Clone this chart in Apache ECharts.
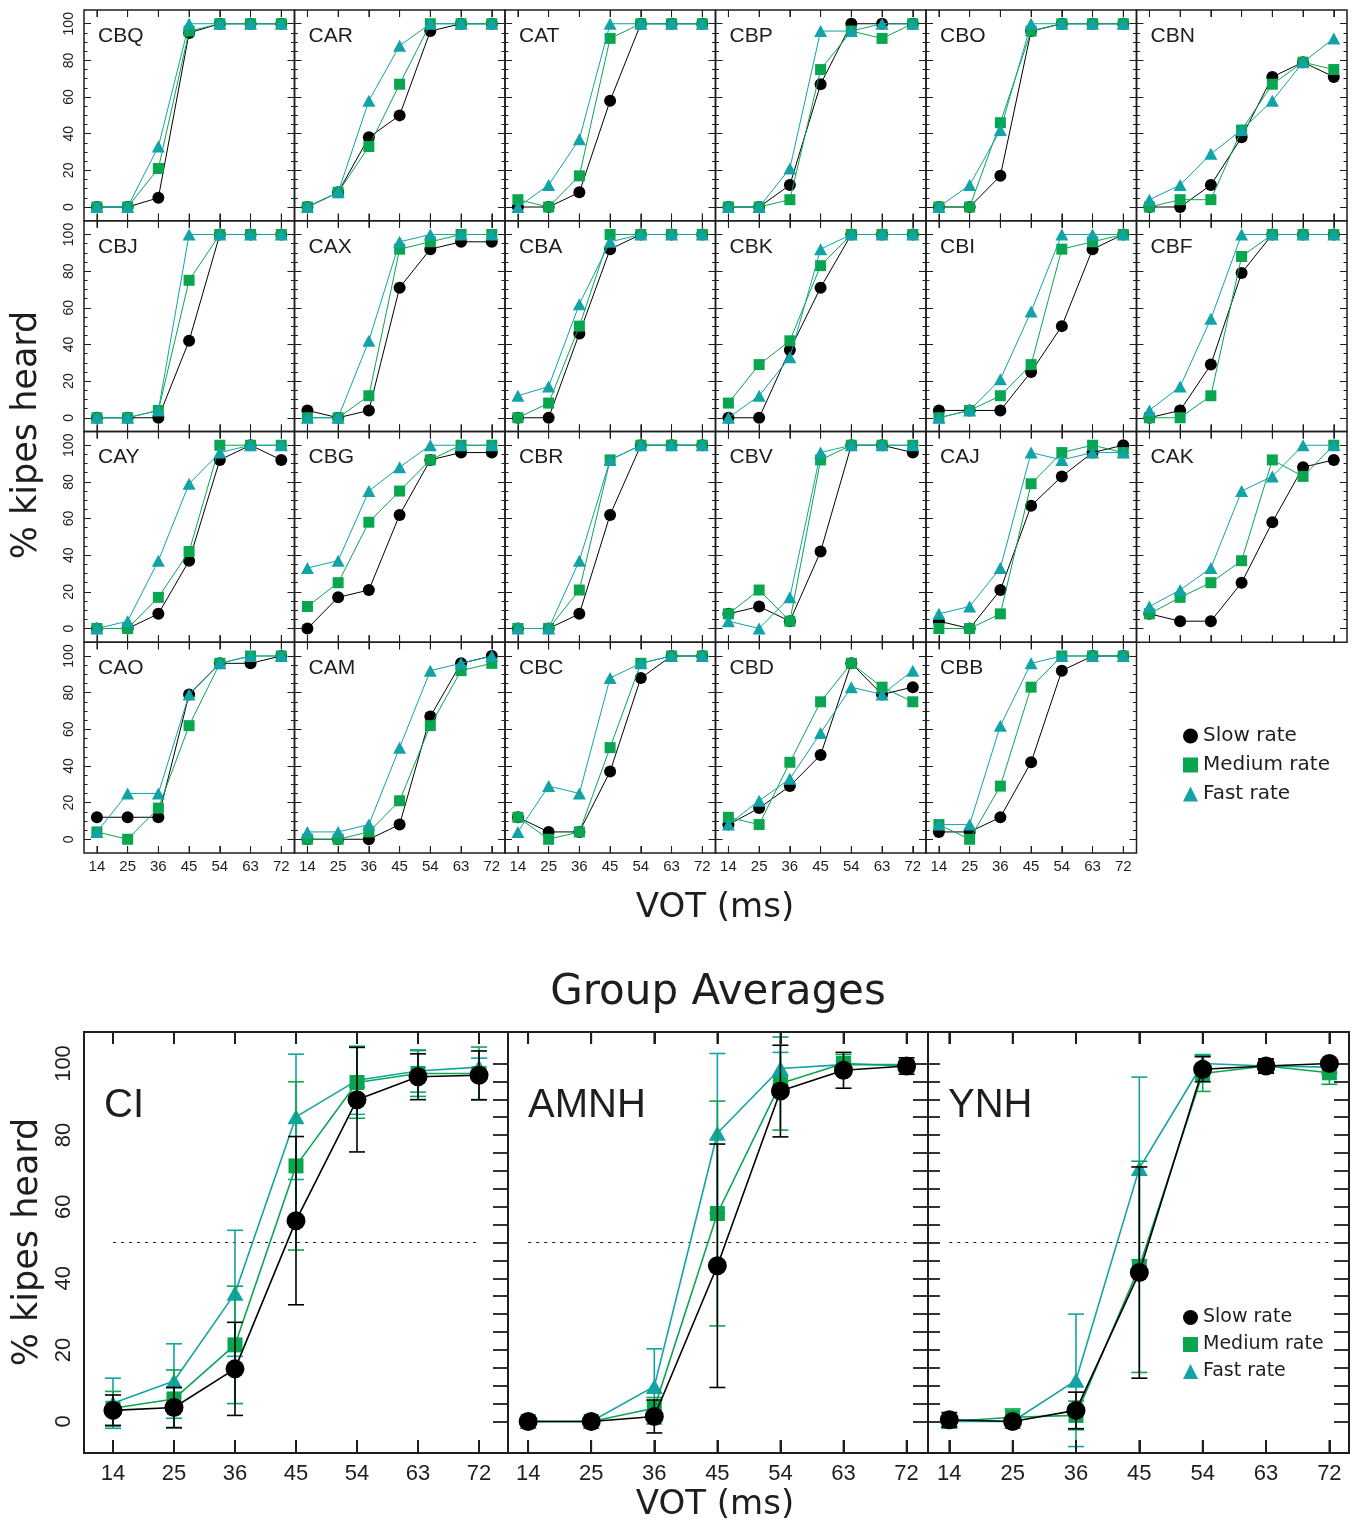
<!DOCTYPE html>
<html><head><meta charset="utf-8">
<script src="https://cdn.jsdelivr.net/npm/echarts@6/dist/echarts.min.js"></script>
<style>html,body{margin:0;padding:0;background:#fff}#chart{width:1362px;height:1525px}</style>
</head><body><div id="chart"></div>
<script>
// ---------- DATA ----------
const votLabels = ['14','25','36','45','54','63','72'];
const subjects = ['CBQ','CAR','CAT','CBP','CBO','CBN','CBJ','CAX','CBA','CBK','CBI','CBF',
                  'CAY','CBG','CBR','CBV','CAJ','CAK','CAO','CAM','CBC','CBD','CBB'];
const slowRate = [
  [0,0,5,95,100,100,100],   // CBQ
  [0,8,38,50,96,100,100],   // CAR
  [0,0,8,58,100,100,100],   // CAT
  [0,0,12,67,100,100,100],  // CBP
  [0,0,17,96,100,100,100],  // CBO
  [0,0,12,38,71,79,71],     // CBN
  [0,0,0,42,100,100,100],   // CBJ
  [4,0,4,71,92,96,96],      // CAX
  [0,0,46,92,100,100,100],  // CBA
  [0,0,37,71,100,100,100],  // CBK
  [4,4,4,25,50,92,100],     // CBI
  [0,4,29,79,100,100,100],  // CBF
  [0,0,8,37,92,100,92],     // CAY
  [0,17,21,62,92,96,96],    // CBG
  [0,0,8,62,100,100,100],   // CBR
  [8,12,4,42,100,100,96],   // CBV
  [4,0,21,67,83,96,100],    // CAJ
  [8,4,4,25,58,88,92],      // CAK
  [12,12,12,79,96,96,100],  // CAO
  [0,0,0,8,67,96,100],      // CAM
  [12,4,4,37,88,100,100],   // CBC
  [8,17,29,46,96,79,83],    // CBD
  [4,4,12,42,92,100,100]    // CBB
];
const mediumRate = [
  [0,0,21,96,100,100,100],  // CBQ
  [0,8,33,67,100,100,100],  // CAR
  [4,0,17,92,100,100,100],  // CAT
  [0,0,4,75,96,92,100],     // CBP
  [0,0,46,96,100,100,100],  // CBO
  [0,4,4,42,67,79,75],      // CBN
  [0,0,4,75,100,100,100],   // CBJ
  [0,0,12,92,96,100,100],   // CAX
  [0,8,50,100,100,100,100], // CBA
  [8,29,42,83,100,100,100], // CBK
  [0,4,12,29,92,96,100],    // CBI
  [0,0,12,88,100,100,100],  // CBF
  [0,0,17,42,100,100,100],  // CAY
  [12,25,58,75,92,100,100], // CBG
  [0,0,21,92,100,100,100],  // CBR
  [8,21,4,92,100,100,100],  // CBV
  [0,0,8,79,96,100,96],     // CAJ
  [8,17,25,37,92,83,100],   // CAK
  [4,0,17,62,96,100,100],   // CAO
  [0,0,4,21,62,92,96],      // CAM
  [12,0,4,50,96,100,100],   // CBC
  [12,8,42,75,96,83,75],    // CBD
  [8,0,29,83,100,100,100]   // CBB
];
const fastRate = [
  [0,0,33,100,100,100,100], // CBQ
  [0,8,58,88,100,100,100],  // CAR
  [0,12,37,100,100,100,100],// CAT
  [0,0,21,96,96,100,100],   // CBP
  [0,12,42,100,100,100,100],// CBO
  [4,12,29,42,58,79,92],    // CBN
  [0,0,4,100,100,100,100],  // CBJ
  [0,0,42,96,100,100,100],  // CAX
  [12,17,62,96,100,100,100],// CBA
  [0,12,33,92,100,100,100], // CBK
  [0,4,21,58,100,100,100],  // CBI
  [4,17,54,100,100,100,100],// CBF
  [0,4,37,79,96,100,100],   // CAY
  [33,37,75,88,100,100,100],// CBG
  [0,0,37,92,100,100,100],  // CBR
  [4,0,17,96,100,100,100],  // CBV
  [8,12,33,96,92,96,96],    // CAJ
  [12,21,33,75,83,100,100], // CAK
  [4,25,25,79,96,100,100],  // CAO
  [4,4,8,50,92,96,100],     // CAM
  [4,29,25,88,96,100,100],  // CBC
  [8,21,33,58,83,79,92],    // CBD
  [8,8,62,96,100,100,100]   // CBB
];
const groupNames = ['CI','AMNH','YNH'];
const groupSlow = [
  [3.1,3.9,14.7,56.1,89.9,96.3,96.7],
  [0,0,1.4,43.5,92.3,98.1,99.3],
  [0.5,0,3.1,41.6,98.4,99.3,100]
];
const groupSlowErr = [
  [4.3,5.6,13,23.5,14.6,6.4,6.8],
  [0,0,4.6,34,12.8,5,2.3],
  [2,0.5,5.1,29.5,3.5,2,0.5]
];
const groupMedium = [
  [3.7,6.3,21.4,71.4,94.7,97.2,97.2],
  [0,0,3.7,58.1,94.4,100,99.3],
  [0,1.2,1.7,43.2,97.2,99.3,97.4]
];
const groupMediumErr = [
  [4.7,8.1,16.4,23.5,10,6.4,7.4],
  [0,0,3,31.4,13,2.5,1.5],
  [1.5,2.3,4,29.5,5,2,3.2]
];
const groupFast = [
  [5.1,11.3,35.8,85.1,95.3,97.9,99],
  [0,0,9.8,80.5,98.6,99.7,99.7],
  [0,0,11.5,70.7,100,99.3,99]
];
const groupFastErr = [
  [7,10.4,17.6,17.5,9.5,5.9,2.5],
  [0,0,10.5,22.3,4.5,1,1],
  [0.5,0.5,18.5,25.5,2.5,1,1.5]
];
const rateNames = ['Slow rate','Medium rate','Fast rate'];

// ---------- STYLE / LAYOUT ----------
const colSlow = '#000000', colMed = '#0aa64f', colFast = '#12a3a6';
const narrow = '"Liberation Sans Narrow","Liberation Sans",Arial,sans-serif';
const helv = '"Liberation Sans",Arial,sans-serif';
const round = '"DejaVu Sans",sans-serif';
const ink = '#1e1e1e';

const grid = [], xAxis = [], yAxis = [], series = [], graphic = [];
function stepVals(a, b, s, skip) {
  const r = [];
  for (let v = a; v <= b + 1e-9; v += s) { if (!skip || !skip(v)) r.push(v); }
  return r;
}
const catIdx = [0,1,2,3,4,5,6];

// top & bottom category ticks, positioned through the panel's own scales
function xTickRender(topLen, botLen, w) {
  return function (params, api) {
    const x = api.value(0), lo = api.value(1), hi = api.value(2);
    const a = api.coord([x, hi]), b = api.coord([x, lo]);
    const st = {stroke: ink, lineWidth: w};
    return {type: 'group', children: [
      {type: 'line', shape: {x1: a[0], y1: a[1], x2: a[0], y2: a[1] + topLen}, style: st},
      {type: 'line', shape: {x1: b[0], y1: b[1], x2: b[0], y2: b[1] - botLen}, style: st}
    ]};
  };
}

function addPanel(p) {
  const g = grid.length;
  grid.push({left: p.left, top: p.top, width: p.width, height: p.height, show: true,
             borderColor: ink, borderWidth: p.border, backgroundColor: 'rgba(0,0,0,0)'});
  const tl = {color: ink, width: p.tickW};
  const yi = yAxis.length;
  const mkY = (pos, vals, len, label) => ({gridIndex: g, type: 'value', position: pos, offset: 0,
    min: p.ymin, max: p.ymax, axisLine: {show: false, onZero: false}, splitLine: {show: false},
    axisTick: {show: len > 0, inside: true, length: Math.max(len, 1), customValues: vals.slice(), lineStyle: Object.assign({}, tl)},
    axisLabel: label ? {show: true, customValues: [0,20,40,60,80,100], rotate: 90, margin: p.yMargin,
                        fontSize: p.yFont, fontFamily: p.yFamily, color: ink} : {show: false}});
  for (const a of p.yAxes) yAxis.push(mkY(a.pos, a.vals, a.len, a.label));
  // hidden helper axes whose zero sits on the bottom / top edge of the panel
  const yBottomZero = yAxis.length;
  yAxis.push({gridIndex: g, type: 'value', show: false, min: 0, max: 1, position: 'left',
              axisLine: {onZero: false}, splitLine: {show: false}});
  const yTopZero = yAxis.length;
  yAxis.push({gridIndex: g, type: 'value', show: false, min: -1, max: 0, position: 'right',
              axisLine: {onZero: false}, splitLine: {show: false}});
  const xi = xAxis.length;
  xAxis.push({gridIndex: g, type: 'value', position: 'bottom', min: p.xmin, max: p.xmax,
    axisLine: {show: false, onZero: true, onZeroAxisIndex: yBottomZero}, splitLine: {show: false},
    axisTick: {show: true, inside: true, length: p.xTick, customValues: catIdx.slice(), lineStyle: Object.assign({}, tl)},
    axisLabel: {show: p.showX, customValues: catIdx.slice(), formatter: v => votLabels[Math.round(v)],
                margin: p.xMargin, fontSize: p.xFont, fontFamily: p.xFamily, color: ink}});
  xAxis.push({gridIndex: g, type: 'value', position: 'top', min: p.xmin, max: p.xmax,
    axisLine: {show: false, onZero: true, onZeroAxisIndex: yTopZero}, splitLine: {show: false},
    axisTick: {show: true, inside: true, length: p.xTickTop, customValues: catIdx.slice(), lineStyle: Object.assign({}, tl)},
    axisLabel: {show: false}});
  series.push({type: 'custom', name: 'axis ticks', xAxisIndex: xi, yAxisIndex: yi, silent: true, clip: false,
    data: catIdx.map(v => [v, p.ymin, p.ymax]), encode: {x: 0, y: [1, 2]},
    renderItem: xTickRender(p.xTickTop, p.xTick, p.tickW), z: 10, animation: false});
  return {xi, yi};
}

// tick marks along top/bottom edges as markLine segments in data coordinates
function edgeTickMarkLine(p, topUnits, botUnits) {
  const d = [];
  catIdx.forEach(v => {
    d.push([{coord: [v, p.ymax]}, {coord: [v, p.ymax - topUnits]}]);
    d.push([{coord: [v, p.ymin]}, {coord: [v, p.ymin + botUnits]}]);
  });
  return {silent: true, symbol: ['none', 'none'], label: {show: false}, animation: false,
          lineStyle: {color: ink, width: p.tickW, type: 'solid'}, emphasis: {disabled: true}, data: d};
}

// ---------- SMALL PANELS ----------
const X0 = 84, Y0 = 10, PW = 210.5, PH = 210.75;
const major20 = stepVals(0, 100, 20);
const minor5 = stepVals(5, 95, 5, v => v % 20 === 0);
subjects.forEach((name, i) => {
  const r = Math.floor(i / 6), c = i % 6;
  const left = X0 + c * PW, top = Y0 + r * PH;
  const p = {left, top, width: PW, height: PH, border: 1.5, tickW: 1,
    xmin: -0.42, xmax: 6.43, ymin: -7.5, ymax: 107.5,
    showX: r === 3, xTick: 7, xTickTop: 7, xMargin: 6, xFont: 15, xFamily: helv,
    yMargin: 8, yFont: 14, yFamily: narrow,
    yAxes: [{pos: 'left', vals: major20, len: 7, label: c === 0},
            {pos: 'left', vals: minor5, len: 3.5},
            {pos: 'right', vals: major20, len: 7},
            {pos: 'right', vals: minor5, len: 3.5}]};
  const ax = addPanel(p);
  const unit = PH / (p.ymax - p.ymin);
  const defs = [[slowRate, colSlow, 'circle', 12, 0], [mediumRate, colMed, 'rect', 11, 1],
                [fastRate, colFast, 'triangle', [13, 12], 2]];
  defs.forEach(([arr, col, sym, sz, k]) => {
    const s = {type: 'line', name: rateNames[k], xAxisIndex: ax.xi, yAxisIndex: ax.yi,
      data: arr[i].map((v, j) => [j, v]), symbol: sym, symbolSize: sz, showSymbol: true,
      lineStyle: {color: col, width: 1}, itemStyle: {color: col}, z: 3 + k,
      emphasis: {disabled: true}, animation: false};
    if (k === 0) s.markLine = edgeTickMarkLine(p, 7 / unit, 7 / unit);
    series.push(s);
  });
  graphic.push({type: 'text', x: left + 14, y: top + 26,
    style: {text: name, font: '21px ' + helv, fill: ink, align: 'left', verticalAlign: 'middle'}});
});

// ---------- GROUP PANELS ----------
const groupBox = [
  {left: 84, width: 424, xmin: -0.475, xmax: 6.475, leftTicks: 0},
  {left: 508, width: 420, xmin: -0.32, xmax: 6.34, leftTicks: 0},
  {left: 928, width: 421, xmin: -0.336, xmax: 6.31, leftTicks: 12}
];
const GT = 1032, GH = 421;
const gTicks = stepVals(0, 100, 5);
function errRender(color) {
  return function (params, api) {
    const x = api.value(0), lo = api.value(1), hi = api.value(2);
    if (hi - lo < 0.01) return null;
    const a = api.coord([x, hi]), b = api.coord([x, lo]);
    const hw = 8, st = {stroke: color, lineWidth: 1.6};
    return {type: 'group', children: [
      {type: 'line', shape: {x1: a[0], y1: a[1], x2: b[0], y2: b[1]}, style: st},
      {type: 'line', shape: {x1: a[0] - hw, y1: a[1], x2: a[0] + hw, y2: a[1]}, style: st},
      {type: 'line', shape: {x1: b[0] - hw, y1: b[1], x2: b[0] + hw, y2: b[1]}, style: st}
    ]};
  };
}
groupNames.forEach((name, gi) => {
  const bx = groupBox[gi];
  const yAxesDef = [{pos: 'left', vals: gTicks, len: bx.leftTicks, label: gi === 0},
                    {pos: 'right', vals: gTicks, len: 15}];
  const p = {left: bx.left, top: GT, width: bx.width, height: GH, border: 2, tickW: 1.8,
    xmin: bx.xmin, xmax: bx.xmax, ymin: -8.8, ymax: 108.8,
    showX: true, xTick: 13, xTickTop: 12, xMargin: 10, xFont: 22, xFamily: helv,
    yMargin: 9, yFont: 22, yFamily: narrow, yAxes: yAxesDef};
  const ax = addPanel(p);
  const unit = GH / (p.ymax - p.ymin);
  // 50% reference line (also carries the edge tick marks)
  series.push({type: 'line', name: 'ref', xAxisIndex: ax.xi, yAxisIndex: ax.yi,
    data: [[0, 50], [6, 50]], symbol: 'none', silent: true,
    lineStyle: {color: ink, width: 1.2, type: [3, 5]}, z: 1, animation: false,
    markLine: edgeTickMarkLine(p, 12 / unit, 13 / unit)});
  const defs = [
    [groupFast, groupFastErr, colFast, 'triangle', [17, 15], 2],
    [groupMedium, groupMediumErr, colMed, 'rect', 15, 1],
    [groupSlow, groupSlowErr, colSlow, 'circle', 19, 0]
  ];
  defs.forEach(([m, e, col, sym, sz, k], order) => {
    series.push({type: 'custom', name: rateNames[k], xAxisIndex: ax.xi, yAxisIndex: ax.yi,
      data: m[gi].map((v, j) => [j, v - e[gi][j], v + e[gi][j]]),
      encode: {x: 0, y: [1, 2]}, renderItem: errRender(col), itemStyle: {color: col},
      z: 2 + order * 2, silent: true, animation: false});
    series.push({type: 'line', name: rateNames[k], xAxisIndex: ax.xi, yAxisIndex: ax.yi,
      data: m[gi].map((v, j) => [j, v]), symbol: sym, symbolSize: sz,
      lineStyle: {color: col, width: 1.6}, itemStyle: {color: col}, z: 3 + order * 2,
      emphasis: {disabled: true}, animation: false});
  });
  graphic.push({type: 'text', x: bx.left + 20, y: 1106,
    style: {text: name, font: '40px ' + helv, fill: ink, align: 'left', verticalAlign: 'middle'}});
});

// ---------- TITLES ----------
graphic.push(
  {type: 'text', x: 715, y: 908, style: {text: 'VOT (ms)', font: '34px ' + round, fill: ink, align: 'center', verticalAlign: 'middle'}},
  {type: 'text', x: 27, y: 435, rotation: Math.PI / 2, style: {text: '% kipes heard', font: '35px ' + round, fill: ink, align: 'center', verticalAlign: 'middle'}},
  {type: 'text', x: 718, y: 993, style: {text: 'Group Averages', font: '42px ' + round, fill: ink, align: 'center', verticalAlign: 'middle'}},
  {type: 'text', x: 715, y: 1505, style: {text: 'VOT (ms)', font: '34px ' + round, fill: ink, align: 'center', verticalAlign: 'middle'}},
  {type: 'text', x: 28, y: 1242, rotation: Math.PI / 2, style: {text: '% kipes heard', font: '35px ' + round, fill: ink, align: 'center', verticalAlign: 'middle'}}
);

const legendData = [{name: 'Slow rate', icon: 'circle'}, {name: 'Medium rate', icon: 'rect'}, {name: 'Fast rate', icon: 'triangle'}];
const legend = [
  {orient: 'vertical', left: 1178, top: 721, itemWidth: 15, itemHeight: 15, itemGap: 9,
   data: legendData, selectedMode: false, textStyle: {fontFamily: round, fontSize: 20, color: ink}},
  {orient: 'vertical', left: 1178, top: 1303, itemWidth: 15, itemHeight: 15, itemGap: 8,
   data: legendData, selectedMode: false, textStyle: {fontFamily: round, fontSize: 19, color: ink}}
];

const chart = echarts.init(document.getElementById('chart'), null, {renderer: 'canvas'});
chart.setOption({backgroundColor: '#fff', animation: false, grid, xAxis, yAxis, series, legend, graphic});
</script></body></html>
